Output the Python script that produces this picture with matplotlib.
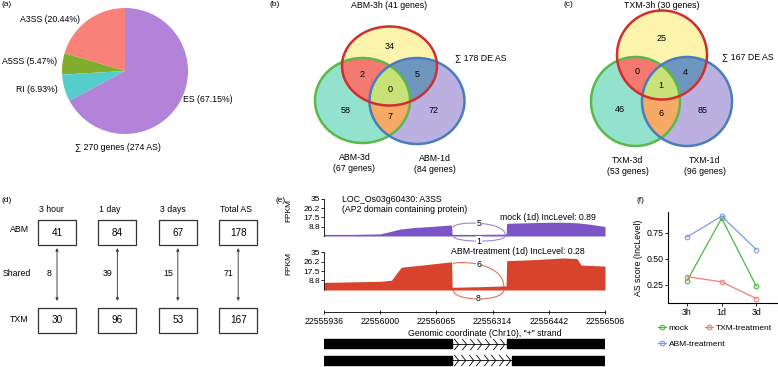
import numpy as np
import matplotlib
matplotlib.use('Agg')
import matplotlib.pyplot as plt
from matplotlib.patches import Ellipse, Rectangle, PathPatch
from matplotlib.path import Path
from matplotlib.colors import to_rgba

plt.rcParams['font.family'] = ['Liberation Sans', 'DejaVu Sans']
plt.rcParams['font.size'] = 6

W, H = 778, 367

# ---- data ----
# (a) AS type proportions
pie_labels = ['A3SS (20.44%)', 'A5SS (5.47%)', 'RI (6.93%)', 'ES (67.15%)']
pie_pct = [20.44, 5.47, 6.93, 67.15]
pie_colors = ['#f8827a', '#80ad2b', '#55cdcb', '#b283d8']
pie_total = '\u2211 270 genes (274 AS)'

# (b)/(c) venn counts: 3h only, 3d only, 1d only, 3h&3d, 3h&1d, 3d&1d, all
venn_b = [34, 58, 72, 2, 5, 7, 0]
venn_c = [25, 46, 85, 0, 4, 6, 1]
venn_b_names = ['ABM-3h (41 genes)', 'ABM-3d\n(67 genes)', 'ABM-1d\n(84 genes)']
venn_c_names = ['TXM-3h (30 genes)', 'TXM-3d\n(53 genes)', 'TXM-1d\n(96 genes)']
venn_b_total = '\u2211 178 DE AS'
venn_c_total = '\u2211 167 DE AS'

# (d) shared DE AS
d_cols = ['3 hour', '1 day', '3 days', 'Total AS']
d_abm = [41, 84, 67, 178]
d_txm = [30, 96, 53, 167]
d_shared = [8, 39, 15, 71]

# (e) sashimi coverage (position along track in %, FPKM)
mock_pos = [0, 10, 20, 24, 27, 32, 38, 45.4, 45.6, 55, 64.8, 65, 72, 80, 85, 90, 95, 100]
mock_cov = [1.5, 1.5, 2, 4.5, 6.5, 8, 9, 10.5, 1.5, 1.5, 1.8, 12, 12.5, 13, 13, 12.5, 11, 9]
abm_pos = [0, 10, 20, 24, 27.5, 35, 45.4, 45.6, 55, 64.8, 65, 75, 85, 90, 91.5, 100]
abm_cov = [7, 7.5, 8, 9, 21, 23, 26, 2.5, 3, 3.8, 27, 28, 29.5, 29, 23, 22]
fpkm_ticks = [8.8, 17.5, 26.2, 35]
junc_mock = [5, 1]
junc_abm = [6, 8]
coord_labels = ['22555936', '22556000', '22556065', '22556314', '22556442', '22556506']
exons_1 = [(0, 45.5), (65, 35)]
exons_2 = [(0, 45.5), (67, 33)]

# (f) AS score
f_x = ['3h', '1d', '3d']
f_mock = [0.29, 0.89, 0.24]
f_txm = [0.33, 0.28, 0.12]
f_abm = [0.71, 0.91, 0.59]

fig = plt.figure(figsize=(W / 100, H / 100), dpi=100)


def px_axes(x0, y0, x1, y1):
    return fig.add_axes([x0 / W, 1 - y1 / H, (x1 - x0) / W, (y1 - y0) / H])


canvas = fig.add_axes([0, 0, 1, 1], zorder=0)
canvas.axis('off')

for lab, (x, y) in zip(['(a)', '(b)', '(c)', '(d)', '(e)', '(f)'],
                       [(2, 5), (270, 5), (564, 5), (2, 200), (276, 200), (637, 200)]):
    canvas.text(x, y, lab, fontsize=6, va='center')

# ---- (a) pie ----
ax_pie = px_axes(62, 8, 188, 134)
ax_pie.pie(pie_pct, colors=pie_colors, startangle=90, counterclock=True,
           wedgeprops=dict(linewidth=0))
ax_pie.set_xlim(-1, 1)
ax_pie.set_ylim(-1, 1)
ax_pie.set_aspect('equal')
ax_pie.axis('off')
for lab, (x, y, ha) in zip(pie_labels, [(80, 19, 'right'), (57, 61, 'right'),
                                        (58, 89, 'right'), (183, 99, 'left')]):
    canvas.text(x, y, lab, ha=ha, va='center', fontsize=6.3)
canvas.text(118, 148, pie_total, ha='center', va='center', fontsize=6.3)

# ---- (b)/(c) venn ----
venn_fill = ['#fcf4ac', '#93e2cf', '#bcb0e0', '#f47a72', '#6f97c0', '#f8aa66', '#c8e27a']
venn_edge = ['#d02f2f', '#5db84a', '#4a7cbe']


def venn(ells, counts, box, names, total, total_xy):
    x0, y0, x1, y1 = box
    xs = np.arange(x0, x1, 0.25) + 0.125
    ys = np.arange(y0, y1, 0.25) + 0.125
    X, Y = np.meshgrid(xs, ys)
    a, b, c = [((X - cx) / (w / 2)) ** 2 + ((Y - cy) / (h / 2)) ** 2 <= 1
               for cx, cy, w, h in ells]
    regions = [a & ~b & ~c, b & ~a & ~c, c & ~a & ~b,
               a & b & ~c, a & c & ~b, b & c & ~a, a & b & c]
    img = np.zeros(X.shape + (4,))
    for m, col in zip(regions, venn_fill):
        img[m] = to_rgba(col)
    canvas.imshow(img, extent=(x0, x1, y1, y0), origin='upper', aspect='auto',
                  interpolation='bilinear', zorder=1)
    for i in [1, 2, 0]:
        cx, cy, w, h = ells[i]
        canvas.add_patch(Ellipse((cx, cy), w, h, fill=False, ec=venn_edge[i], lw=1.8, zorder=2))
    for m, n in zip(regions, counts):
        canvas.text(X[m].mean(), Y[m].mean(), str(n), ha='center', va='center',
                    fontsize=6.5, zorder=3)
    canvas.text(ells[0][0], 6, names[0], ha='center', va='center', fontsize=6.3)
    canvas.text(ells[1][0] - 8, ells[1][1] + ells[1][3] / 2 + 20, names[1],
                ha='center', va='center', fontsize=6.3, linespacing=1.3)
    canvas.text(ells[2][0] + 18, ells[2][1] + ells[2][3] / 2 + 20, names[2],
                ha='center', va='center', fontsize=6.3, linespacing=1.3)
    canvas.text(total_xy[0], total_xy[1], total, ha='left', va='center', fontsize=6.3)


venn([(389.5, 66, 95, 79), (362.5, 100.5, 95, 85), (417, 101, 95, 86)],
     venn_b, (305, 20, 470, 150), venn_b_names, venn_b_total, (455, 58))
venn([(662, 55, 90, 89), (635.5, 101.5, 89, 89), (687, 101.5, 90, 89)],
     venn_c, (585, 5, 740, 150), venn_c_names, venn_c_total, (722, 57))

# ---- (d) boxes ----
col_x = [57 + 60.4 * i for i in range(4)]
for i, cx in enumerate(col_x):
    canvas.text(cx - 18, 210, d_cols[i], ha='left', va='center', fontsize=6.3)
    for yc, val in [(232.5, d_abm[i]), (320, d_txm[i])]:
        canvas.add_patch(Rectangle((cx - 19, yc - 12.5), 38, 25, fill=False,
                                   ec='#333333', lw=0.9))
        canvas.text(cx, yc, str(val), ha='center', va='center', fontsize=7.2)
    canvas.annotate('', xy=(cx, 301), xytext=(cx, 248),
                    arrowprops=dict(arrowstyle='<|-|>', color='#444444', lw=0.7,
                                    mutation_scale=4, shrinkA=0, shrinkB=0))
    canvas.text(cx - 5, 273, str(d_shared[i]), ha='right', va='center', fontsize=6.3)
for lab, x, y in [('ABM', 10, 229), ('Shared', 3, 273), ('TXM', 10, 320)]:
    canvas.text(x, y, lab, ha='left', va='center', fontsize=6.3)

# ---- (e) sashimi ----


def junction(ax, x0, x1, y0, y1, yk, n, color):
    verts = [(x0, y0), (x0, yk), (x1, yk), (x1, y1)]
    p = PathPatch(Path(verts, [Path.MOVETO, Path.CURVE4, Path.CURVE4, Path.CURVE4]),
                  fill=False, ec=color, lw=0.8, clip_on=False)
    ax.add_patch(p)
    ym = (y0 + 3 * yk + 3 * yk + y1) / 8
    ax.text((x0 + x1) / 2, ym, str(n), ha='center', va='center', fontsize=6.3,
            bbox=dict(fc='white', ec='none', pad=0.3), clip_on=False)


tracks = []
for (y0, y1), pos, cov, col in [((199, 236), mock_pos, mock_cov, '#7c54c6'),
                                ((252, 290), abm_pos, abm_cov, '#d8432e')]:
    ax = px_axes(324, y0, 605, y1)
    ax.fill_between(pos, cov, color=col, lw=0)
    ax.set_xlim(0, 100)
    ax.set_ylim(0, 35)
    ax.set_yticks(fpkm_ticks)
    ax.set_yticklabels([str(t) for t in fpkm_ticks])
    ax.set_xticks([])
    for s in ['top', 'right', 'bottom']:
        ax.spines[s].set_visible(False)
    ax.spines['left'].set_linewidth(0.6)
    ax.tick_params(axis='y', labelsize=6, length=2, width=0.6, pad=1)
    ax.patch.set_alpha(0)
    tracks.append(ax)

junction(tracks[0], 46, 64.5, 8, 1, 14.5, junc_mock[0], '#9d88d8')
junction(tracks[0], 46, 64.5, 0, 0, -6.5, junc_mock[1], '#9d88d8')
junction(tracks[1], 46, 64, 24, 3, 27, junc_abm[0], '#e5705f')
junction(tracks[1], 46, 64, 0, 0, -11, junc_abm[1], '#e5705f')

canvas.text(342, 200, 'LOC_Os03g60430: A3SS', ha='left', va='center', fontsize=6.3)
canvas.text(342, 209, '(AP2 domain containing protein)', ha='left', va='center', fontsize=6.3)
canvas.text(500, 217, 'mock (1d) IncLevel: 0.89', ha='left', va='center', fontsize=6.3, zorder=5)
fig.text(451 / W, 1 - 252 / H, 'ABM-treatment (1d) IncLevel: 0.28', ha='left', va='center',
         fontsize=6.3)
for y in [210, 263]:
    canvas.text(289, y, 'FPKM', rotation=90, ha='center', va='center', fontsize=6)

ax_g = px_axes(324, 306, 605, 312)
ax_g.set_xlim(0, 100)
ax_g.set_xticks(np.linspace(0, 100, len(coord_labels)))
ax_g.set_xticklabels(coord_labels)
ax_g.set_yticks([])
for s in ['top', 'right', 'left']:
    ax_g.spines[s].set_visible(False)
ax_g.spines['bottom'].set_linewidth(0.6)
ax_g.tick_params(axis='x', labelsize=6.3, length=3, width=0.6, direction='inout', pad=2)
ax_g.patch.set_alpha(0)
canvas.text(485, 334, 'Genomic coordinate (Chr10), "+" strand', ha='center', va='center',
            fontsize=6.3)

chevron = Path([(-0.4, 1), (0.4, 0), (-0.4, -1)], [Path.MOVETO, Path.LINETO, Path.LINETO])
ax_m = px_axes(324, 338, 605, 367)
ax_m.set_xlim(0, 100)
ax_m.set_ylim(0, 2)
ax_m.axis('off')
for yc, exons, nchev in [(1.6, exons_1, 7), (0.45, exons_2, 8)]:
    ax_m.broken_barh(exons, (yc - 0.3, 0.6), color='black')
    i0 = exons[0][0] + exons[0][1]
    i1 = exons[1][0]
    ax_m.plot([i0, i1], [yc, yc], color='black', lw=0.6)
    ax_m.plot(np.linspace(i0 + 1.5, i1 - 1.5, nchev), [yc] * nchev, ls='none',
              marker=chevron, ms=8, mfc='none', mec='black', mew=0.6)

# ---- (f) AS score ----
ax_f = px_axes(668, 212, 777, 303)
xi = np.arange(1, len(f_x) + 1)
style = dict(marker='o', mfc='none', ms=3.3, lw=0.9, mew=0.8)
h_mock, = ax_f.plot(xi, f_mock, color='#4cb843', **style)
h_txm, = ax_f.plot(xi, f_txm, color='#f07f7a', **style)
h_abm, = ax_f.plot(xi, f_abm, color='#7f9be0', **style)
ax_f.set_xlim(0.45, 3.6)
ax_f.set_ylim(0.077, 0.95)
ax_f.set_xticks(xi)
ax_f.set_xticklabels(f_x)
ax_f.set_yticks([0.25, 0.5, 0.75])
ax_f.set_yticklabels(['0.25', '0.50', '0.75'])
for s in ['top', 'right']:
    ax_f.spines[s].set_visible(False)
for s in ['left', 'bottom']:
    ax_f.spines[s].set_linewidth(0.8)
ax_f.tick_params(labelsize=6.3, length=2, width=0.6, pad=1.5)
ax_f.set_ylabel('AS score (IncLevel)', fontsize=6.3, labelpad=2)
for h, lab, x, y in [(h_mock, 'mock', 658, 328), (h_txm, 'TXM-treatment', 705, 328),
                     (h_abm, 'ABM-treatment', 658, 344)]:
    fig.legend([h], [lab], loc='center left', bbox_to_anchor=(x / W, 1 - y / H),
               frameon=False, fontsize=6, handlelength=1.0, handletextpad=0.3,
               borderpad=0, borderaxespad=0)

canvas.set_xlim(0, W)
canvas.set_ylim(H, 0)

fig.savefig('out.png', dpi=100)
